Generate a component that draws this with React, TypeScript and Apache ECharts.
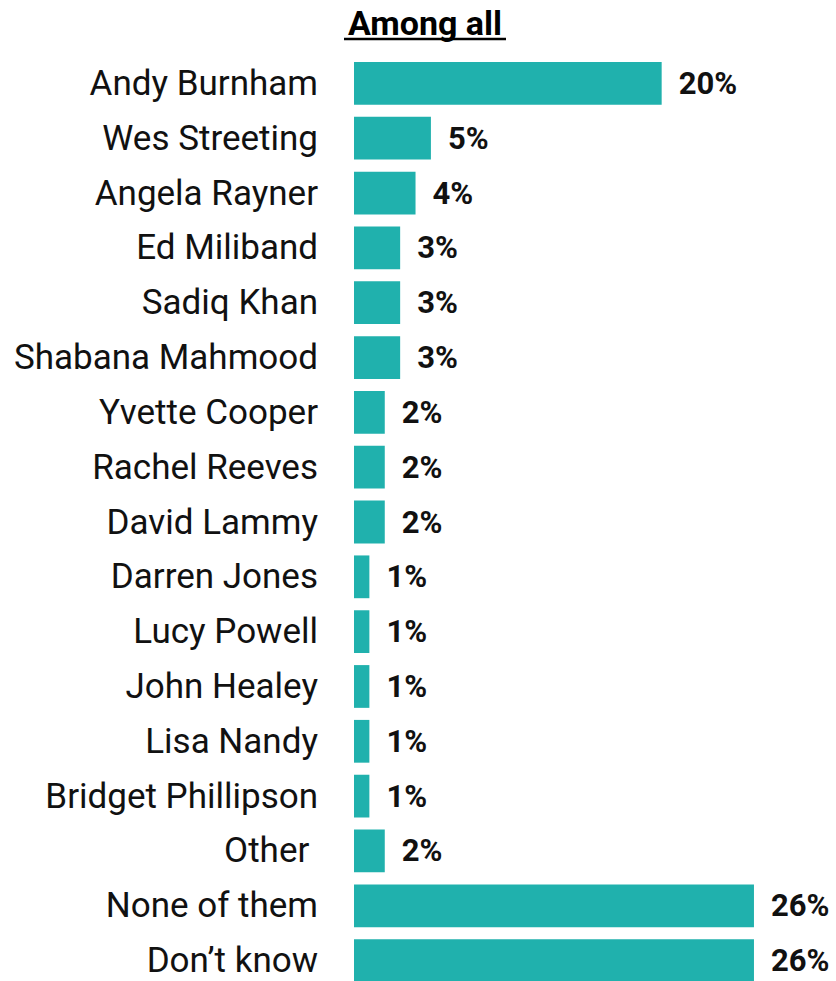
import React, { useEffect, useRef } from "react";
import * as echarts from "echarts";

const categories = [
  "Andy Burnham",
  "Wes Streeting",
  "Angela Rayner",
  "Ed Miliband",
  "Sadiq Khan",
  "Shabana Mahmood",
  "Yvette Cooper",
  "Rachel Reeves",
  "David Lammy",
  "Darren Jones",
  "Lucy Powell",
  "John Healey",
  "Lisa Nandy",
  "Bridget Phillipson",
  "Other ",
  "None of them",
  "Don\u2019t know",
];
const values = [20, 5, 4, 3, 3, 3, 2, 2, 2, 1, 1, 1, 1, 1, 2, 26, 26];
const title = "Among all";

export default function App() {
  const ref = useRef<HTMLDivElement>(null);
  useEffect(() => {
    const chart = echarts.init(ref.current!, null, { renderer: "svg" });
    chart.setOption({
      animation: false,
      graphic: [
        {
          type: "text",
          x: 425,
          y: 23,
          style: {
            text: title,
            font: "bold 34px Roboto",
            fill: "#000",
            textAlign: "center",
            textVerticalAlign: "middle",
          },
        },
        {
          type: "line",
          shape: { x1: 344, y1: 39, x2: 506, y2: 39 },
          style: { stroke: "#000", lineWidth: 2.5 },
        },
      ],
      grid: { left: 354, top: 56, width: 461.5, height: 932 },
      xAxis: {
        type: "value",
        min: 0,
        max: 30,
        show: false,
      },
      yAxis: {
        type: "category",
        data: categories,
        inverse: true,
        axisLine: { show: false },
        axisTick: { show: false },
        axisLabel: {
          margin: 36,
          fontSize: 35,
          fontFamily: "Roboto",
          color: "#111",
        },
      },
      series: [
        {
          type: "bar",
          data: values,
          barCategoryGap: "22%",
          itemStyle: { color: "#20B1AD" },
          label: {
            show: true,
            position: "right",
            distance: 17,
            formatter: "{c}%",
            fontSize: 31,
            fontWeight: "bold",
            fontFamily: "Roboto",
            color: "#111",
          },
        },
      ],
    });
    return () => chart.dispose();
  }, []);
  return (
    <div style={{ position: "absolute", left: 0, top: 0, width: 836, height: 981, overflow: "hidden", background: "#fff" }}>
      <div ref={ref} style={{ width: 836, height: 1000 }} />
    </div>
  );
}
